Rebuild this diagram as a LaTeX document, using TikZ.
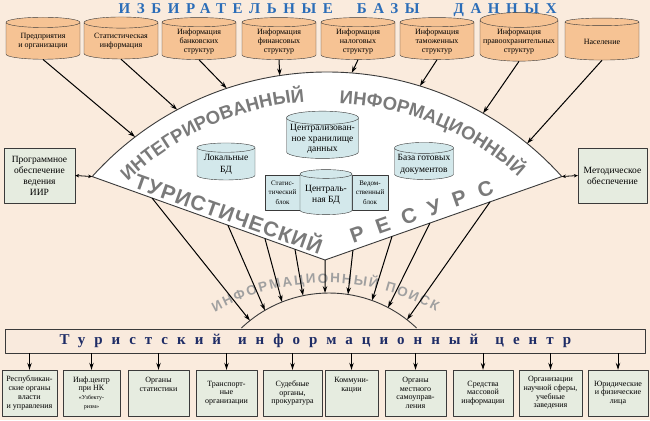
\documentclass[tikz,border=0pt]{standalone}
\usepackage{fontspec}
\setmainfont{Liberation Serif}
\newfontfamily\wordfont{Liberation Sans}
\usepackage{tikz}
\usetikzlibrary{shapes.geometric,arrows.meta,positioning,calc,decorations.text}
\definecolor{paper}{HTML}{FAEBDD}
\definecolor{srcfill}{HTML}{F6C394}
\definecolor{dbfill}{HTML}{D3E8EB}
\definecolor{boxfill}{HTML}{E6ECE0}
\definecolor{barfill}{HTML}{F9EADD}
\definecolor{edge}{HTML}{3A3A3A}
\definecolor{titleblue}{HTML}{2B6DB8}
\definecolor{navy}{HTML}{1E2C66}
\definecolor{wordgray}{HTML}{7A7A7A}
\definecolor{searchgray}{HTML}{A0A0A0}
\newcommand\fanfont{\wordfont\bfseries\fontsize{18.5}{18.5}\selectfont\color{wordgray}}
\newcommand\resfont{\wordfont\bfseries\fontsize{21}{21}\selectfont\color{wordgray}}
\newcommand\srchfont{\wordfont\bfseries\fontsize{13.5}{13.5}\selectfont\color{searchgray}}
\newcommand\sm{\fontsize{6}{7}\selectfont}

\begin{document}
\begin{tikzpicture}[x=1pt,y=-1pt,line join=round,
  db/.style={cylinder,shape border rotate=90,aspect=.2,draw=edge,fill=srcfill,
             minimum width=74pt,minimum height=42pt,inner sep=1pt,align=center,
             font=\fontsize{8}{9.3}\selectfont},
  ldb/.style={cylinder,shape border rotate=90,aspect=.2,draw=edge,fill=dbfill,
              inner sep=1pt,inner ysep=0pt,align=center,font=\fontsize{9.5}{11.3}\selectfont},
  blk/.style={draw=edge,fill=dbfill,inner sep=1pt,align=center,
              font=\fontsize{7}{9.5}\selectfont},
  sb/.style={draw=edge,fill=boxfill,align=center,minimum height=55pt,inner sep=1pt,
             font=\fontsize{9.5}{11}\selectfont},
  ob/.style={draw=edge,fill=boxfill,align=center,minimum height=46pt,inner sep=1pt,
             font=\fontsize{8}{8.7}\selectfont},
  ar/.style={-{Stealth[length=7pt,width=4.5pt]},line width=1pt},
  dar/.style={{Stealth[length=4pt,width=3.5pt]}-{Stealth[length=4pt,width=3.5pt]},line width=.8pt}]
\fill[paper] (0,0) rectangle (650,420);
\useasboundingbox (0,0) rectangle (650,420);

% sources
\node[anchor=west,text=titleblue,font=\fontsize{15}{15}\selectfont\bfseries\addfontfeature{LetterSpace=44}]
  (ttl) at (115,10.5) {ИЗБИРАТЕЛЬНЫЕ\hspace{24pt}БАЗЫ\hspace{34pt}ДАННЫХ};
\node[db] (s1) at (43,41.5) {Предприятия\\и организации};
\node[db] (s2) at (121,41.5) {Статистическая\\информация};
\node[db] (s3) at (199,41.5) {Информация\\банковских\\структур};
\node[db] (s4) at (279,41.5) {Информация\\финансовых\\структур};
\node[db] (s5) at (358,41.5) {Информация\\налоговых\\структур};
\node[db] (s6) at (437,41.5) {Информация\\таможенных\\структур};
\node[db,minimum width=78pt] (s7) at (519,41.5) {Информация\\правоохранительных\\структур};
\node[db] (s8) at (602,41.5) {Население};

% resource fan
\coordinate (C) at (327,388);
\path (C) ++(-138:316) coordinate (L);
\path (C) ++(-42:316) coordinate (R);
\coordinate (A) at (325,260);
\draw[edge,line width=.9pt,fill=white] (L) arc[start angle=-138,end angle=-42,radius=316] -- (A) -- cycle;
\path[decorate,decoration={text along path,text align=fit to path,text={|\fanfont|ИНТЕГРИРОВАННЫЙ}}]
  (C) ++(-134:287) arc[start angle=-134,end angle=-95,radius=287];
\path[decorate,decoration={text along path,text align=fit to path,text={|\fanfont|ИНФОРМАЦИОННЫЙ}}]
  (C) ++(-87.5:285) arc[start angle=-87.5,end angle=-49,radius=285];
\path[decorate,decoration={text along path,text align=fit to path,text={|\resfont|ТУРИСТИЧЕСКИЙ}}]
  ($(L)!.171!(A)+(1,-3)$) -- ($(L)!.97!(A)+(1,-3)$);
\path[decorate,decoration={text along path,text align=fit to path,text={|\resfont|РЕСУРС}}]
  ($(A)!.127!(R)+(-2,-6)$) -- ($(A)!.726!(R)+(-2,-6)$);

\node[blk,minimum width=35pt,minimum height=35pt] (stat) at (282.5,192.5) {Статис-\\тический\\блок};
\node[blk,minimum width=36pt,minimum height=35pt] (dept) at (370,192.5) {Ведом-\\ственный\\блок};
\node[ldb,minimum width=52pt,minimum height=45pt] (cdb) at (326,195) {Централь-\\ная БД};
\node[ldb,minimum width=58pt,minimum height=37pt] (loc) at (226,164.5) {Локальные\\БД};
\node[ldb,minimum width=72pt,minimum height=45pt,font=\fontsize{9.5}{10.3}\selectfont]
  (wh) at (322.5,139) {Централизован-\\ное хранилище\\данных};
\node[ldb,minimum width=59pt,minimum height=37pt] (docs) at (424,164.5) {База готовых\\документов};

\foreach \a [count=\i] in {-127.4,-118.3,-108.5,-98.6,-85.5,-72.9,-60.4,-50.7}
  \path (C) ++(\a:316) coordinate (in\i);
\foreach \i in {1,...,8} \draw[ar] (s\i.south) -- (in\i);

% side boxes
\node[sb,minimum width=71pt] (prog) at (39.5,175.5) {Программное\\обеспечение\\ведения\\ИИР};
\node[sb,minimum width=69pt] (meth) at (612.5,175.5) {Методическое\\обеспечение};
\draw[dar] (prog.east) -- (L);
\draw[dar] (R) -- (meth.west);

% search
\coordinate (S) at (329,420);
\path[decorate,decoration={text along path,text align=fit to path,text={|\srchfont|ИНФОРМАЦИОННЫЙ ПОИСК}}]
  (326,510) ++(-119.3:227) arc[start angle=-119.3,end angle=-61,radius=227];
\draw[edge,line width=.9pt] (S) ++(-133.6:127) arc[start angle=-133.6,end angle=-46.4,radius=127];
\foreach \t [count=\i] in {.257,.583,.742,.871} \coordinate (lo\i) at ($(L)!\t!(A)$);
\foreach \t [count=\i] in {.118,.283,.443,.697} \coordinate (ro\i) at ($(A)!\t!(R)$);
\foreach \a [count=\i] in {-128.5,-120.3,-111.7,-101.8,-91.8,-81.4,-70.2,-62.3,-52.1}
  \path (S) ++(\a:127) coordinate (q\i);
\foreach \f [count=\i] in {lo1,lo2,lo3,lo4,A,ro1,ro2,ro3,ro4} \draw[ar] (\f) -- (q\i);

% centre and users
\node[draw=edge,fill=barfill,minimum width=640pt,minimum height=24pt,inner sep=0pt] (bar) at (325,341) {};
\node[anchor=west,text=navy,font=\fontsize{15}{15}\selectfont\bfseries\addfontfeature{LetterSpace=60}]
  (barttl) at (56,341) {Туристский\hspace{17pt}информационный\hspace{17pt}центр};
\foreach \x/\w/\t [count=\i] in {
  29.5/55/{Республикан-\\ские органы\\власти\\и управления},
  91.5/57/{Инф.центр\\при НК\\{\sm«Узбекту-}\\{\sm ризм»}},
  158.5/61/{Органы\\статистики\\ \\ },
  226.5/61/{Транспорт-\\ные\\организации},
  292.5/59/{Судебные\\органы,\\прокуратура},
  351.5/53/{Коммуни-\\кации\\ \\ },
  415.5/61/{Органы\\местного\\самоуправ-\\ления},
  483/60/{Средства\\массовой\\информации},
  550.5/63/{Организации\\научной сферы,\\учебные\\заведения},
  618/60/{Юридические\\и физические\\лица}}
  \node[ob,minimum width=\w pt] (o\i) at (\x,393) {\t};
\foreach \i in {1,...,10} \draw[ar] (bar.south -| o\i.north) -- (o\i.north);
\end{tikzpicture}
\end{document}
